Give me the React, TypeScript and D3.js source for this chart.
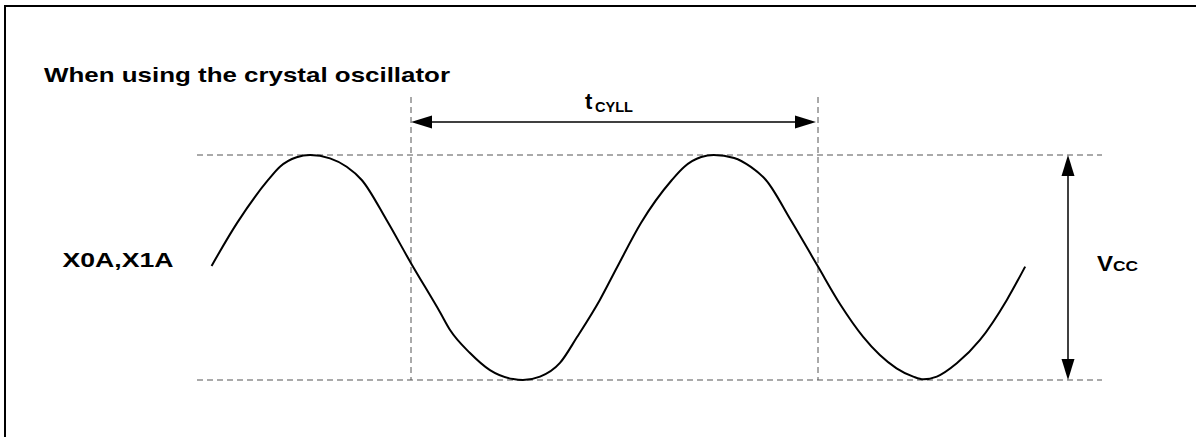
import React from "react";
import * as d3 from "d3";

// Wave samples: t in units of t_CYLL (0 and 1 = dashed markers), v normalized (0 = GND, 1 = VCC)
const waveT = [
  -0.49, -0.428, -0.351, -0.322, -0.281, -0.248, -0.199, -0.158, -0.121, -0.06, 0, 0.071,
  0.096, 0.145, 0.194, 0.251, 0.275, 0.317, 0.366, 0.408, 0.464, 0.506, 0.565, 0.641,
  0.671, 0.713, 0.744, 0.794, 0.835, 0.872, 0.933, 1.0, 1.054, 1.111, 1.152, 1.193,
  1.234, 1.259, 1.292, 1.341, 1.398, 1.464, 1.509,
];
const waveV = [
  0.507, 0.696, 0.889, 0.948, 0.99, 1.0, 0.985, 0.948, 0.889, 0.711, 0.519, 0.302,
  0.222, 0.12, 0.044, 0.004, 0.0, 0.015, 0.076, 0.191, 0.356, 0.5, 0.698, 0.889,
  0.947, 0.991, 1.0, 0.987, 0.947, 0.889, 0.711, 0.504, 0.338, 0.192, 0.111, 0.052,
  0.015, 0.003, 0.015, 0.074, 0.178, 0.356, 0.504,
];
const levels = [0, 1]; // GND and VCC reference levels
const markers = [0, 1]; // start and end of one cycle
const title = "When using the crystal oscillator";
const signalLabel = "X0A,X1A";
const periodLabel = ["t", "CYLL"];
const ampLabel = ["V", "CC"];

const W = 1196;
const H = 437;

export default function App() {
  const x = d3.scaleLinear().domain([0, 1]).range([411, 818]);
  const y = d3.scaleLinear().domain([0, 1]).range([380, 155]);

  const pts: [number, number][] = waveT.map((t, i) => [t, waveV[i]]);
  const line = d3
    .line<[number, number]>()
    .x((d) => x(d[0]))
    .y((d) => y(d[1]))
    .curve(d3.curveMonotoneX);

  const hx0 = 197;
  const hx1 = 1102;
  const vTop = 97;
  const arrowY = 122;
  const vArrowX = 1068;
  const ah = 21; // arrowhead length
  const aw = 6.5; // arrowhead half-width
  const dash = "6,4";
  const dashColor = "#555";
  const font = "'Liberation Sans', Arial, Helvetica, sans-serif";

  const xa = x(markers[0]);
  const xb = x(markers[1]);
  const yTop = y(levels[1]);
  const yBot = y(levels[0]);

  return (
    <svg
      width={W}
      height={H}
      style={{ position: "absolute", left: 0, top: 0, background: "#fff" }}
      fontFamily={font}
    >
      <rect x={0} y={0} width={W} height={H} fill="#fff" />
      {/* frame (top and left edges) */}
      <line x1={4} y1={6} x2={W} y2={6} stroke="#000" strokeWidth={2} />
      <line x1={5} y1={5} x2={5} y2={H} stroke="#000" strokeWidth={2} />

      {/* title */}
      <text
        x={44}
        y={82}
        fontSize={21}
        fontWeight="bold"
        fill="#000"
        textLength={406}
        lengthAdjust="spacingAndGlyphs"
      >
        {title}
      </text>

      {/* horizontal dashed reference levels */}
      {levels.map((l) => (
        <line
          key={"h" + l}
          x1={hx0}
          x2={hx1}
          y1={y(l)}
          y2={y(l)}
          stroke={dashColor}
          strokeWidth={1}
          strokeDasharray={dash}
        />
      ))}
      {/* vertical dashed markers */}
      {markers.map((m) => (
        <line
          key={"v" + m}
          x1={x(m)}
          x2={x(m)}
          y1={vTop}
          y2={yBot}
          stroke={dashColor}
          strokeWidth={1}
          strokeDasharray={dash}
        />
      ))}

      {/* waveform */}
      <path d={line(pts) || ""} fill="none" stroke="#000" strokeWidth={2} />

      {/* signal label */}
      <text
        x={62.5}
        y={267}
        fontSize={20}
        fontWeight="bold"
        fill="#000"
        textLength={111}
        lengthAdjust="spacingAndGlyphs"
      >
        {signalLabel}
      </text>

      {/* period arrow */}
      <line x1={xa + ah} x2={xb - ah} y1={arrowY} y2={arrowY} stroke="#000" strokeWidth={1.5} />
      <polygon
        points={`${xa},${arrowY} ${xa + ah},${arrowY - aw} ${xa + ah},${arrowY + aw}`}
        fill="#000"
      />
      <polygon
        points={`${xb - 2},${arrowY} ${xb - 2 - ah},${arrowY - aw} ${xb - 2 - ah},${arrowY + aw}`}
        fill="#000"
      />
      <text x={585} y={109} fontSize={22} fontWeight="bold" fill="#000">
        {periodLabel[0]}
      </text>
      <text
        x={595}
        y={111.5}
        fontSize={14}
        fontWeight="bold"
        fill="#000"
        textLength={38}
        lengthAdjust="spacingAndGlyphs"
      >
        {periodLabel[1]}
      </text>

      {/* amplitude arrow */}
      <line x1={vArrowX} x2={vArrowX} y1={yTop + ah} y2={yBot - ah} stroke="#000" strokeWidth={1.5} />
      <polygon
        points={`${vArrowX},${yTop} ${vArrowX - aw},${yTop + ah} ${vArrowX + aw},${yTop + ah}`}
        fill="#000"
      />
      <polygon
        points={`${vArrowX},${yBot} ${vArrowX - aw},${yBot - ah} ${vArrowX + aw},${yBot - ah}`}
        fill="#000"
      />
      <text
        x={1097}
        y={271}
        fontSize={22}
        fontWeight="bold"
        fill="#000"
        textLength={16}
        lengthAdjust="spacingAndGlyphs"
      >
        {ampLabel[0]}
      </text>
      <text
        x={1113}
        y={271}
        fontSize={15}
        fontWeight="bold"
        fill="#000"
        textLength={25}
        lengthAdjust="spacingAndGlyphs"
      >
        {ampLabel[1]}
      </text>
    </svg>
  );
}
